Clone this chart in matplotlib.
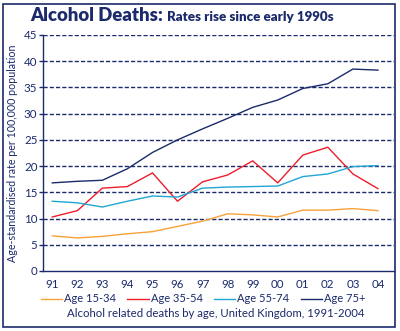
import matplotlib
matplotlib.use("Agg")
import matplotlib.pyplot as plt
from matplotlib.patches import Rectangle

plt.rcParams['font.family'] = ['Lato', 'DejaVu Sans']

NAVY = '#1b2a6b'

years = ['91', '92', '93', '94', '95', '96', '97', '98', '99', '00', '01', '02', '03', '04']
age_15_34 = [6.7, 6.3, 6.6, 7.1, 7.5, 8.5, 9.5, 10.9, 10.7, 10.3, 11.6, 11.6, 11.9, 11.5]
age_35_54 = [10.3, 11.5, 15.8, 16.1, 18.7, 13.3, 17.0, 18.3, 21.0, 16.8, 22.1, 23.6, 18.5, 15.7]
age_55_74 = [13.3, 13.0, 12.2, 13.3, 14.3, 14.1, 15.8, 16.0, 16.1, 16.2, 18.0, 18.5, 19.9, 20.1]
age_75_up = [16.8, 17.1, 17.3, 19.5, 22.6, 25.0, 27.1, 29.1, 31.2, 32.6, 34.8, 35.7, 38.5, 38.3]

series = [
    ('Age 15-34', age_15_34, '#f7a23b'),
    ('Age 35-54', age_35_54, '#ee1d2a'),
    ('Age 55-74', age_55_74, '#20a6d3'),
    ('Age 75+', age_75_up, '#1b2a6b'),
]

fig = plt.figure(figsize=(4.0, 3.31), dpi=100)
ax = fig.add_axes([0.1075, 0.1813, 0.8775, 0.713])

x = list(range(len(years)))
for label, vals, color in series:
    ax.plot(x, vals, color=color, lw=1.0, label=label, zorder=3)

ax.set_xlim(-0.37, 13.64)
ax.set_ylim(0, 45)
ax.set_yticks(range(0, 46, 5))
ax.set_xticks(x)
ax.set_xticklabels(years)

for y in range(5, 46, 5):
    ax.axhline(y, color=NAVY, lw=1.0, ls=(0, (3, 1.5)), zorder=1)

for side in ('top', 'right'):
    ax.spines[side].set_visible(False)
for side in ('left', 'bottom'):
    ax.spines[side].set_color(NAVY)
    ax.spines[side].set_linewidth(1.0)

ax.tick_params(axis='y', colors=NAVY, length=3, width=1.0, pad=1, labelsize=8.3)
ax.tick_params(axis='x', colors=NAVY, length=0, pad=6, labelsize=8.3)

ax.set_ylabel('Age-standardised rate per 100,000 population', color=NAVY,
              fontsize=7.7, labelpad=4)

fig.text(0.075, 0.937, 'Alcohol Deaths:', color=NAVY, fontsize=13.3,
         fontweight='heavy', ha='left', va='baseline')
fig.text(0.418, 0.937, 'Rates rise since early 1990s', color=NAVY, fontsize=9.6,
         fontweight='heavy', ha='left', va='baseline')

leg = fig.legend(loc='center', bbox_to_anchor=(0.508, 0.097), ncol=4, frameon=False,
                 fontsize=8, handlelength=1.9, handletextpad=0.2, columnspacing=1.0,
                 borderaxespad=0)
for t in leg.get_texts():
    t.set_color(NAVY)

fig.text(0.54, 0.053, 'Alcohol related deaths by age, United Kingdom, 1991-2004',
         color=NAVY, fontsize=8.2, ha='center', va='center')

fig.patches.append(Rectangle((3 / 400, 4 / 331), 392 / 400, 323 / 331,
                             transform=fig.transFigure, fill=False,
                             edgecolor=NAVY, lw=1.2))

fig.savefig('out.png', dpi=100)
